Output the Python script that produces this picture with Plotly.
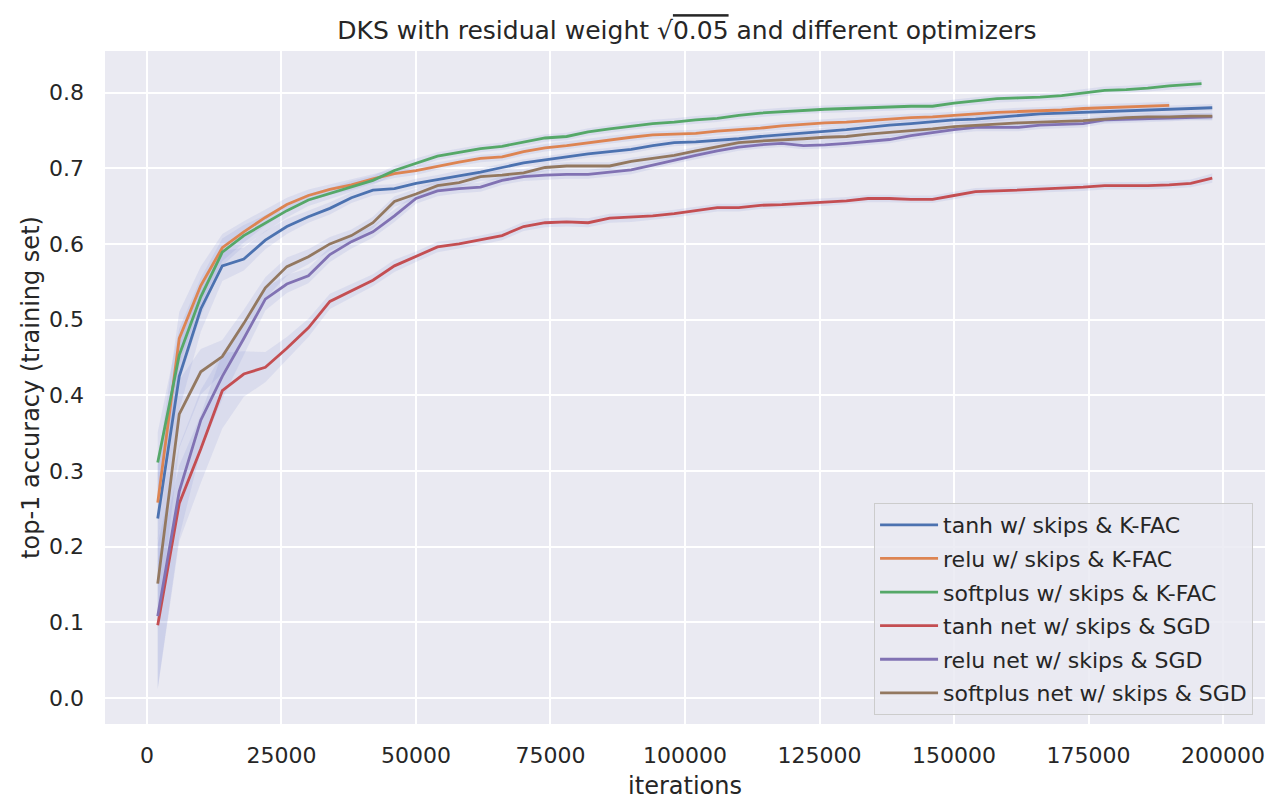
import plotly.graph_objects as go

iterations = [2000, 6000, 10000, 14000, 18000, 22000, 26000, 30000, 34000, 38000,
              42000, 46000, 50000, 54000, 58000, 62000, 66000, 70000, 74000, 78000,
              82000, 86000, 90000, 94000, 98000, 102000, 106000, 110000, 114000, 118000,
              122000, 126000, 130000, 134000, 138000, 142000, 146000, 150000, 154000, 158000,
              162000, 166000, 170000, 174000, 178000, 182000, 186000, 190000, 194000, 198000]
green_iterations = iterations[:49] + [196000]

tanh_kfac = [0.237, 0.425, 0.514, 0.571, 0.580, 0.605, 0.623, 0.636, 0.647, 0.661,
             0.671, 0.673, 0.680, 0.685, 0.691, 0.695, 0.701, 0.707, 0.711, 0.715,
             0.719, 0.722, 0.725, 0.730, 0.734, 0.735, 0.737, 0.739, 0.742, 0.744,
             0.746, 0.749, 0.751, 0.754, 0.757, 0.759, 0.762, 0.764, 0.765, 0.767,
             0.770, 0.772, 0.773, 0.774, 0.775, 0.776, 0.777, 0.778, 0.779, 0.780]
relu_kfac = [0.258, 0.475, 0.545, 0.595, 0.616, 0.635, 0.652, 0.664, 0.672, 0.678,
             0.686, 0.693, 0.697, 0.703, 0.708, 0.713, 0.715, 0.722, 0.727, 0.730,
             0.734, 0.738, 0.741, 0.744, 0.745, 0.746, 0.749, 0.751, 0.753, 0.756,
             0.758, 0.760, 0.761, 0.763, 0.765, 0.767, 0.768, 0.770, 0.772, 0.774,
             0.775, 0.776, 0.777, 0.779, 0.780, 0.781, 0.782, 0.783]
softplus_kfac = [0.311, 0.453, 0.530, 0.589, 0.611, 0.627, 0.644, 0.658, 0.667, 0.676,
                 0.684, 0.697, 0.707, 0.716, 0.721, 0.726, 0.729, 0.734, 0.740, 0.742,
                 0.748, 0.752, 0.756, 0.759, 0.761, 0.764, 0.766, 0.770, 0.773, 0.775,
                 0.777, 0.778, 0.779, 0.780, 0.781, 0.782, 0.782, 0.786, 0.789, 0.792,
                 0.793, 0.794, 0.796, 0.800, 0.803, 0.804, 0.806, 0.809, 0.811, 0.812]
tanh_sgd = [0.096, 0.257, 0.329, 0.406, 0.428, 0.437, 0.462, 0.489, 0.524, 0.538,
            0.552, 0.571, 0.583, 0.596, 0.600, 0.605, 0.611, 0.623, 0.628, 0.629,
            0.628, 0.634, 0.635, 0.637, 0.640, 0.644, 0.648, 0.648, 0.651, 0.652,
            0.654, 0.655, 0.657, 0.660, 0.660, 0.659, 0.659, 0.664, 0.669, 0.670,
            0.671, 0.673, 0.674, 0.675, 0.677, 0.677, 0.677, 0.678, 0.680, 0.687]
relu_sgd = [0.108, 0.273, 0.367, 0.425, 0.475, 0.527, 0.547, 0.558, 0.586, 0.603,
            0.616, 0.637, 0.660, 0.670, 0.673, 0.675, 0.684, 0.689, 0.691, 0.692,
            0.692, 0.695, 0.698, 0.704, 0.711, 0.717, 0.723, 0.728, 0.731, 0.733,
            0.730, 0.731, 0.733, 0.735, 0.738, 0.743, 0.747, 0.751, 0.754, 0.754,
            0.754, 0.757, 0.758, 0.759, 0.764, 0.765, 0.766, 0.767, 0.768, 0.768]
softplus_sgd = [0.151, 0.375, 0.431, 0.451, 0.495, 0.542, 0.570, 0.583, 0.600, 0.611,
                0.628, 0.656, 0.666, 0.677, 0.681, 0.689, 0.691, 0.694, 0.701, 0.703,
                0.703, 0.703, 0.709, 0.713, 0.717, 0.723, 0.729, 0.734, 0.736, 0.737,
                0.739, 0.741, 0.742, 0.745, 0.747, 0.749, 0.752, 0.755, 0.757, 0.759,
                0.760, 0.761, 0.762, 0.763, 0.765, 0.767, 0.768, 0.768, 0.769, 0.769]

# estimated half-widths of the shaded bands
tanh_kfac_sd = [0.070, 0.045, 0.030, 0.020, 0.015, 0.012, 0.010, 0.008, 0.008, 0.007,
                0.007, 0.006, 0.006, 0.006, 0.006, 0.005, 0.005, 0.005, 0.005, 0.005,
                0.005, 0.005, 0.005, 0.005, 0.005, 0.005, 0.005, 0.005, 0.005, 0.005,
                0.005, 0.005, 0.005, 0.005, 0.005, 0.005, 0.005, 0.005, 0.005, 0.005,
                0.005, 0.005, 0.005, 0.005, 0.005, 0.005, 0.005, 0.005, 0.005, 0.005]
relu_kfac_sd = [0.050, 0.035, 0.025, 0.018, 0.014, 0.011, 0.009, 0.008, 0.007, 0.007,
                0.006, 0.006, 0.006, 0.005, 0.005, 0.005, 0.005, 0.005, 0.005, 0.005,
                0.005, 0.005, 0.005, 0.005, 0.005, 0.005, 0.005, 0.005, 0.005, 0.005,
                0.005, 0.005, 0.005, 0.005, 0.005, 0.005, 0.005, 0.005, 0.005, 0.005,
                0.005, 0.005, 0.005, 0.005, 0.005, 0.005, 0.005, 0.005]
softplus_kfac_sd = [0.040, 0.035, 0.025, 0.018, 0.014, 0.011, 0.009, 0.008, 0.007, 0.007,
                    0.006, 0.006, 0.006, 0.005, 0.005, 0.005, 0.005, 0.005, 0.005, 0.005,
                    0.005, 0.005, 0.005, 0.005, 0.005, 0.005, 0.005, 0.005, 0.005, 0.005,
                    0.005, 0.005, 0.005, 0.005, 0.005, 0.005, 0.005, 0.005, 0.005, 0.005,
                    0.005, 0.005, 0.005, 0.005, 0.005, 0.005, 0.005, 0.005, 0.005, 0.005]
tanh_sgd_sd = [0.085, 0.050, 0.045, 0.050, 0.030, 0.020, 0.015, 0.012, 0.010, 0.009,
               0.008, 0.008, 0.007, 0.007, 0.006, 0.006, 0.006, 0.006, 0.006, 0.006,
               0.006, 0.006, 0.006, 0.005, 0.005, 0.005, 0.005, 0.005, 0.005, 0.005,
               0.005, 0.005, 0.005, 0.005, 0.005, 0.005, 0.005, 0.005, 0.005, 0.005,
               0.005, 0.005, 0.005, 0.005, 0.005, 0.005, 0.005, 0.005, 0.005, 0.006]
relu_sgd_sd = [0.095, 0.060, 0.040, 0.030, 0.022, 0.015, 0.012, 0.010, 0.010, 0.009,
               0.008, 0.008, 0.007, 0.007, 0.006, 0.006, 0.006, 0.006, 0.006, 0.006,
               0.006, 0.006, 0.006, 0.005, 0.005, 0.005, 0.005, 0.005, 0.005, 0.005,
               0.005, 0.005, 0.005, 0.005, 0.005, 0.005, 0.005, 0.005, 0.005, 0.005,
               0.005, 0.005, 0.005, 0.005, 0.005, 0.005, 0.005, 0.005, 0.005, 0.005]
softplus_sgd_sd = [0.060, 0.045, 0.030, 0.022, 0.018, 0.014, 0.012, 0.010, 0.009, 0.008,
                   0.008, 0.007, 0.007, 0.006, 0.006, 0.006, 0.006, 0.005, 0.005, 0.005,
                   0.005, 0.005, 0.005, 0.005, 0.005, 0.005, 0.005, 0.005, 0.005, 0.005,
                   0.005, 0.005, 0.005, 0.005, 0.005, 0.005, 0.005, 0.005, 0.005, 0.005,
                   0.005, 0.005, 0.005, 0.005, 0.005, 0.005, 0.005, 0.005, 0.005, 0.005]

series_names = ["tanh w/ skips & K-FAC", "relu w/ skips & K-FAC", "softplus w/ skips & K-FAC",
                "tanh net w/ skips & SGD", "relu net w/ skips & SGD", "softplus net w/ skips & SGD"]
colors = ["#4c72b0", "#dd8452", "#55a868", "#c44e52", "#8172b3", "#937860"]

x_ticks = [0, 25000, 50000, 75000, 100000, 125000, 150000, 175000, 200000]
x_tick_labels = ["0", "25000", "50000", "75000", "100000", "125000", "150000", "175000", "200000"]
y_ticks = [0.0, 0.1, 0.2, 0.3, 0.4, 0.5, 0.6, 0.7, 0.8]
y_tick_labels = ["0.0", "0.1", "0.2", "0.3", "0.4", "0.5", "0.6", "0.7", "0.8"]

series = [
    (iterations, tanh_kfac, tanh_kfac_sd),
    (iterations, relu_kfac, relu_kfac_sd),
    (green_iterations, softplus_kfac, softplus_kfac_sd),
    (iterations, tanh_sgd, tanh_sgd_sd),
    (iterations, relu_sgd, relu_sgd_sd),
    (iterations, softplus_sgd, softplus_sgd_sd),
]

fig = go.Figure()
band_color = "rgba(110,125,205,0.12)"
for (xs, ys, sd) in series:
    n = len(ys)
    xx = list(xs[:n])
    upper = [y + s for y, s in zip(ys, sd)]
    lower = [y - s for y, s in zip(ys, sd)]
    fig.add_trace(go.Scatter(x=xx + xx[::-1], y=upper + lower[::-1], fill="toself",
                             fillcolor=band_color, line=dict(width=0), mode="lines",
                             showlegend=False, hoverinfo="skip"))
for i, ((xs, ys, sd), name, c) in enumerate(zip(series, series_names, colors)):
    n = len(ys)
    fig.add_trace(go.Scatter(x=list(xs[:n]), y=ys, mode="lines", name=name,
                             legendgroup=f"g{i}",
                             line=dict(color=c, width=2.8)))

font_family = "DejaVu Sans"
text_color = "#262626"
fig.update_layout(
    width=1270, height=800,
    margin=dict(l=105, r=5, t=51, b=73),
    paper_bgcolor="white",
    plot_bgcolor="#eaeaf2",
    font=dict(family=font_family, size=22, color=text_color),
    title=dict(text="DKS with residual weight √<span style='text-decoration:overline'>0.05</span> and different optimizers",
               xref="paper", x=0.5017, xanchor="center", yref="container", y=0.962, yanchor="middle",
               font=dict(family=font_family, size=25, color=text_color)),
    showlegend=True,
    legend=dict(x=0.9897, xanchor="right", y=0.0133, yanchor="bottom",
                bgcolor="rgba(234,234,242,0.85)", bordercolor="#cccccc", borderwidth=1,
                font=dict(family=font_family, size=22, color=text_color),
                tracegroupgap=2, itemwidth=58),
)
fig.update_xaxes(range=[-7800, 207800], tickvals=x_ticks, ticktext=x_tick_labels,
                 showgrid=True, gridcolor="white", gridwidth=1.8, zeroline=False, showline=False,
                 ticks="", ticklabelstandoff=16,
                 title=dict(text="iterations", standoff=10, font=dict(size=24)),
                 tickfont=dict(size=22))
fig.update_yaxes(range=[-0.0346, 0.855], tickvals=y_ticks, ticktext=y_tick_labels,
                 showgrid=True, gridcolor="white", gridwidth=1.8, zeroline=False, showline=False,
                 ticks="", ticklabelstandoff=20,
                 title=dict(text="top-1 accuracy (training set)", standoff=2, font=dict(size=24)),
                 tickfont=dict(size=22))

fig.write_html("out.html",
               config={"displayModeBar": False},
               post_script="document.body.style.margin='0';document.body.style.padding='0';")
